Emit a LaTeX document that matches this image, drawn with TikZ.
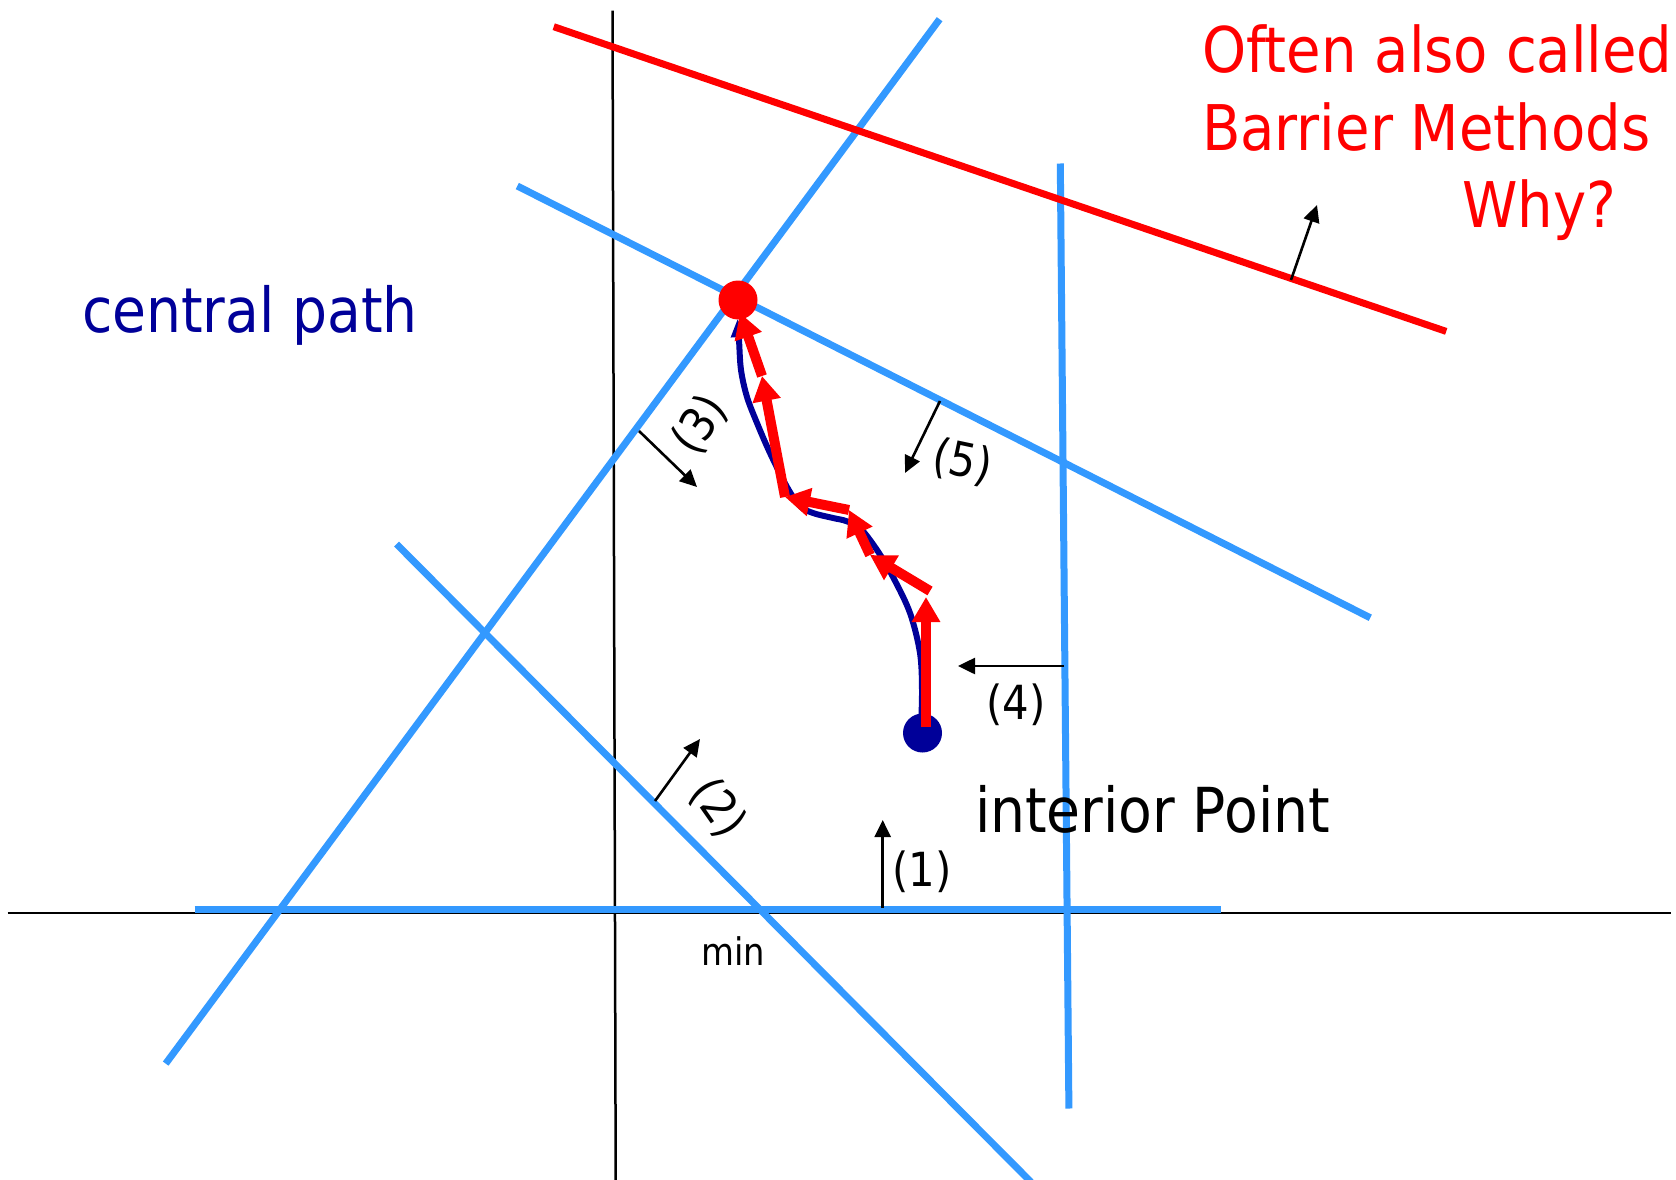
\documentclass[tikz,border=0pt]{standalone}
\usepackage{fontspec}
\setmainfont{DejaVu Sans}[FakeStretch=0.89]
\usetikzlibrary{arrows.meta}
\definecolor{lblue}{HTML}{3399FF}
\definecolor{navyc}{HTML}{000099}
\definecolor{redc}{HTML}{FF0000}
\tikzset{
 axisline/.style={line width=2.5pt, black},
 cline/.style={line width=7pt, lblue},
 rline/.style={line width=7pt, redc},
 dirarrow/.style={line width=2.6pt, black, -{Triangle[length=17pt,width=16pt]}},
 steparrow/.style={line width=10pt, redc, -{Triangle[length=25pt,width=27pt]}},
 patharrow/.style={line width=6pt, navyc, -{Triangle[length=18pt,width=15pt]}},
 lbl/.style={inner sep=0pt, outer sep=0pt, font=\fontsize{47}{56}\selectfont},
 bigtxt/.style={inner sep=0pt, outer sep=0pt, font=\fontsize{62}{74}\selectfont, anchor=base west},
 redtxt/.style={inner sep=0pt, outer sep=0pt, font=\fontsize{63}{76}\selectfont, anchor=base west, text=redc},
 dot/.style={circle, inner sep=0pt, outer sep=0pt, minimum size=39pt},
}
\begin{document}
\begin{tikzpicture}[x=1pt,y=-1pt]
\useasboundingbox[fill=white] (0,0) rectangle (1676,1180);
% axes
\coordinate (ax1) at (7.5,913);
\coordinate (ax2) at (1671,913);
\coordinate (ay1) at (612.5,10.7);
\coordinate (ay2) at (615.7,1180);
\draw[axisline] (ax1) -- (ax2);
\draw[axisline] (ay1) -- (ay2);
% constraint lines
\coordinate (c1a) at (194.5,909.6);  \coordinate (c1b) at (1220.7,909.6);
\coordinate (c2a) at (165.7,1063.6); \coordinate (c2b) at (939.6,19.2);
\coordinate (c3a) at (396.6,544.1);  \coordinate (c3b) at (1031,1182);
\coordinate (c4a) at (517.3,186);    \coordinate (c4b) at (1370.3,617.8);
\coordinate (c5a) at (1060.3,163.5); \coordinate (c5b) at (1068.9,1108.5);
\coordinate (rla) at (553.7,26.7);   \coordinate (rlb) at (1446.2,331.4);
\draw[cline] (c1a) -- (c1b);
\draw[cline] (c2a) -- (c2b);
\draw[cline] (c3a) -- (c3b);
\draw[cline] (c4a) -- (c4b);
\draw[cline] (c5a) -- (c5b);
\draw[rline] (rla) -- (rlb);
% direction arrows
\coordinate (d1a) at (882.7,908);  \coordinate (d1b) at (882.7,820);
\coordinate (d2a) at (655,801);    \coordinate (d2b) at (700,739);
\coordinate (d3a) at (639,431);    \coordinate (d3b) at (697,487);
\coordinate (d5a) at (940,401);    \coordinate (d5b) at (905,473);
\coordinate (d4a) at (1064,666);   \coordinate (d4b) at (958,666);
\coordinate (d6a) at (1291,280);   \coordinate (d6b) at (1317,205);
\draw[dirarrow] (d1a) -- (d1b);
\draw[dirarrow] (d2a) -- (d2b);
\draw[dirarrow] (d3a) -- (d3b);
\draw[dirarrow] (d5a) -- (d5b);
\draw[dirarrow] (d4a) -- (d4b);
\draw[dirarrow] (d6a) -- (d6b);
% labels
\node[lbl] (l1) at (922,872) {(1)};
\node[lbl, rotate=-55] (l2) at (718,808) {(2)};
\node[lbl, rotate=55] (l3) at (700,425) {(3)};
\node[lbl] (l4) at (1016,705) {(4)};
\node[lbl, rotate=-12] (l5) at (963,462) {(5)};
\node[inner sep=0pt, font=\fontsize{38}{46}\selectfont, anchor=base west] (mn) at (701,965) {min};
\node[bigtxt, text=navyc] (cp) at (82,332) {central path};
\node[bigtxt] (ip) at (975,832) {interior Point};
\node[redtxt] (r1) at (1202,73) {Often also called};
\node[redtxt] (r2) at (1202,150) {Barrier Methods};
\node[redtxt] (r3) at (1462,227) {Why?};
% start point
\node[dot, fill=navyc] (start) at (922.5,733) {};
% central path
\draw[patharrow] plot[smooth, tension=0.55] coordinates {(921,727) (922,690) (920,653) (910,613) (893,577) (877,550) (860,528) (846,521) (833,518) (813,513) (800,506) (787,487) (770,453) (757,423) (747,397) (741,370) (739,340) (737.5,319)};
% red steps
\coordinate (s0) at (926,727);
\coordinate (s1) at (926,597);
\coordinate (s1b) at (930,591);
\coordinate (s2) at (870,555);
\coordinate (s3) at (849,510);
\coordinate (s4) at (785,497);
\coordinate (s5) at (762,376);
\coordinate (s6) at (740,313);
\draw[steparrow] (s0) -- (s1);
\draw[steparrow] (s1b) -- (s2);
\draw[steparrow] (s2) -- (s3);
\draw[steparrow] (s3) -- (s4);
\draw[steparrow] (s4) -- (s5);
\draw[steparrow] (s5) -- (s6);
% optimum
\node[dot, fill=redc] (opt) at (738,300) {};
\end{tikzpicture}
\end{document}
